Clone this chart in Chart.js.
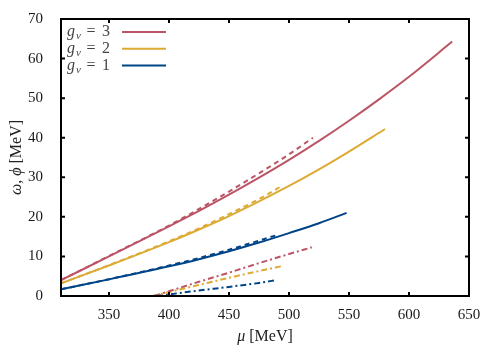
<!DOCTYPE html>
<html>
<head>
<meta charset="utf-8">
<script src="https://cdn.jsdelivr.net/npm/chart.js@4.4.1/dist/chart.umd.min.js"></script>
<style>
body { margin: 0; background: #fff; }
</style>
</head>
<body>
<canvas id="chart1" width="500" height="350"></canvas>
<script>
var xTicks = [350, 400, 450, 500, 550, 600, 650];
var yTicks = [0, 10, 20, 30, 40, 50, 60, 70];
var gvLabels = ['3', '2', '1'];
var colors = ['#BB5566', '#DDAA33', '#004488'];

// g_v = 3
var muRedSolid = [310, 350, 400, 425, 450, 475, 500, 525, 550, 575, 600, 636];
var redSolid = [4, 10.0, 17.6, 21.5, 25.6, 29.9, 34.4, 39.2, 44.3, 49.7, 55.4, 64.3];
var muRedDash = [310, 350, 400, 425, 450, 475, 500, 520];
var redDash = [4, 10.1, 17.8, 22.0, 26.4, 31.0, 35.8, 40.0];
var muRedDot = [388, 400, 425, 450, 475, 500, 519];
var redDot = [0, 1.2, 3.6, 5.9, 8.3, 10.6, 12.3];

// g_v = 2
var muYelSolid = [310, 350, 400, 425, 450, 475, 500, 525, 550, 580];
var yelSolid = [3.2, 7.7, 13.6, 16.8, 20.2, 23.9, 27.8, 32.0, 36.5, 42.2];
var muYelDash = [310, 350, 400, 425, 450, 475, 495];
var yelDash = [3.2, 7.8, 13.8, 17.1, 20.7, 24.5, 28.0];
var muYelDot = [386, 400, 425, 450, 475, 495];
var yelDot = [0, 1.0, 2.8, 4.6, 6.3, 7.6];

// g_v = 1
var muBluSolid = [310, 350, 400, 425, 450, 475, 500, 525, 548];
var bluSolid = [1.7, 4.2, 7.5, 9.3, 11.3, 13.5, 15.9, 18.4, 21.0];
var muBluDash = [310, 350, 400, 425, 450, 475, 490];
var bluDash = [1.7, 4.25, 7.7, 9.6, 11.7, 14.0, 15.4];
var muBluDot = [390, 400, 425, 450, 475, 489];
var bluDot = [0, 0.4, 1.4, 2.3, 3.3, 4.0];

function pts(xs, ys) {
	return xs.map(function(x, i) { return {x: x, y: ys[i]}; });
}

function line(xs, ys, color, dash) {
	return {
		data: pts(xs, ys),
		borderColor: color,
		borderWidth: 2,
		borderDash: dash,
		pointRadius: 0,
		fill: false,
		cubicInterpolationMode: 'monotone'
	};
}

var serif = '"Liberation Serif", "DejaVu Serif", serif';
var DASH = [5, 4];
var DASHDOT = [6, 3, 2, 3];

function drawRich(ctx, parts, x, y) {
	var total = 0;
	parts.forEach(function(p) { ctx.font = p.f; total += ctx.measureText(p.t).width; });
	var cx = x - total / 2;
	parts.forEach(function(p) {
		ctx.font = p.f;
		ctx.fillText(p.t, cx, y);
		cx += ctx.measureText(p.t).width;
	});
}

var frame = {
	id: 'frame',
	afterDatasetsDraw: function(chart) {
		var ctx = chart.ctx, a = chart.chartArea;
		var xs = chart.scales.x, ys = chart.scales.y;
		ctx.save();
		ctx.strokeStyle = '#000';
		ctx.lineWidth = 2;
		ctx.strokeRect(a.left, a.top, a.right - a.left, a.bottom - a.top);
		ctx.beginPath();
		xTicks.forEach(function(v) {
			var p = xs.getPixelForValue(v);
			ctx.moveTo(p, a.bottom); ctx.lineTo(p, a.bottom - 4);
			ctx.moveTo(p, a.top); ctx.lineTo(p, a.top + 4);
		});
		yTicks.forEach(function(v) {
			var p = ys.getPixelForValue(v);
			ctx.moveTo(a.left, p); ctx.lineTo(a.left + 4, p);
			ctx.moveTo(a.right, p); ctx.lineTo(a.right - 4, p);
		});
		ctx.stroke();

		// legend
		ctx.textBaseline = 'alphabetic';
		ctx.textAlign = 'left';
		gvLabels.forEach(function(lab, i) {
			var base = a.top + 17.3 + i * 16.7;
			ctx.fillStyle = '#444';
			ctx.font = 'italic 16px ' + serif;
			ctx.fillText('g', a.left + 6, base);
			ctx.font = 'italic 11px ' + serif;
			ctx.fillText('v', a.left + 15, base + 3);
			ctx.font = '16px ' + serif;
			ctx.fillText('=', a.left + 25.5, base);
			ctx.fillText(lab, a.left + 41, base);
			ctx.strokeStyle = colors[i];
			ctx.lineWidth = 2;
			ctx.beginPath();
			ctx.moveTo(a.left + 61, base - 4.3);
			ctx.lineTo(a.left + 105, base - 4.3);
			ctx.stroke();
		});

		// axis titles
		ctx.fillStyle = '#222';
		drawRich(ctx, [
			{t: '\u03bc', f: 'italic 16px ' + serif},
			{t: ' [MeV]', f: '16px ' + serif}
		], (a.left + a.right) / 2, 341);
		ctx.translate(20.5, (a.top + a.bottom) / 2);
		ctx.rotate(-Math.PI / 2);
		drawRich(ctx, [
			{t: '\u03c9', f: 'italic 16px ' + serif},
			{t: ', ', f: '16px ' + serif},
			{t: '\u03d5', f: 'italic 16px ' + serif},
			{t: ' [MeV]', f: '16px ' + serif}
		], 0, 0);
		ctx.restore();
	}
};

var ctx = document.getElementById('chart1').getContext('2d');
new Chart(ctx, {
	type: 'line',
	data: {
		datasets: [
			line(muRedSolid, redSolid, colors[0], []),
			line(muYelSolid, yelSolid, colors[1], []),
			line(muBluSolid, bluSolid, colors[2], []),
			line(muRedDash, redDash, colors[0], DASH),
			line(muYelDash, yelDash, colors[1], DASH),
			line(muBluDash, bluDash, colors[2], DASH),
			line(muRedDot, redDot, colors[0], DASHDOT),
			line(muYelDot, yelDot, colors[1], DASHDOT),
			line(muBluDot, bluDot, colors[2], DASHDOT)
		]
	},
	options: {
		responsive: false,
		devicePixelRatio: 1,
		animation: false,
		layout: {padding: {top: 16, right: 31, left: 0, bottom: 0}},
		plugins: {legend: {display: false}, tooltip: {enabled: false}},
		scales: {
			x: {
				type: 'linear',
				min: 310,
				max: 650,
				grid: {display: false},
				border: {display: false},
				afterBuildTicks: function(s) { s.ticks = xTicks.map(function(v) { return {value: v}; }); },
				afterFit: function(s) { s.height = 54; },
				ticks: {padding: 2, color: '#1a1a1a', font: {family: serif, size: 15}, maxRotation: 0}
			},
			y: {
				min: 0,
				max: 70,
				grid: {display: false},
				border: {display: false},
				afterBuildTicks: function(s) { s.ticks = yTicks.map(function(v) { return {value: v}; }); },
				afterFit: function(s) { s.width = 61; },
				ticks: {padding: 10, color: '#1a1a1a', font: {family: serif, size: 15}}
			}
		}
	},
	plugins: [frame]
});
</script>
</body>
</html>
